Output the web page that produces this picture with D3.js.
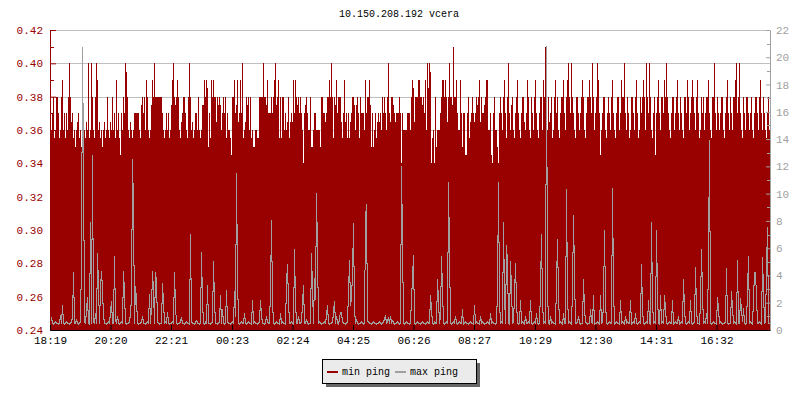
<!DOCTYPE html>
<html><head><meta charset="utf-8">
<script src="https://cdn.jsdelivr.net/npm/d3@7"></script>
<style>
html,body{margin:0;padding:0;background:#fff;}
svg{display:block;}
text{font-family:"Liberation Mono","DejaVu Sans Mono",monospace;}
</style></head>
<body>
<svg id="chart" width="800" height="400"></svg>
<script>
// ---- data (one sample per 2 minutes, 24h) ----
const title = "10.150.208.192 vcera";
const seriesNames = ["min ping", "max ping"];
const tickLabels = ["18:19","20:20","22:21","00:23","02:24","04:25","06:26","08:27","10:29","12:30","14:31","16:32"];
const leftTicks = [0.24,0.26,0.28,0.30,0.32,0.34,0.36,0.38,0.40,0.42];
const rightTicks = [0,2,4,6,8,10,12,14,16,18,20,22];

const minPing = [
.37,.36,.37,.38,.355,.36,.38,.38,.37,.355,
.36,.38,.39,.36,.37,.355,.37,.36,.38,.40,
.38,.365,.37,.355,.36,.35,.36,.365,.37,.355,
.36,.35,.36,.37,.36,.355,.365,.36,.40,.355,
.36,.40,.38,.36,.355,.38,.40,.39,.36,.365,
.355,.36,.35,.36,.365,.355,.36,.38,.36,.355,
.365,.36,.38,.36,.37,.355,.39,.36,.37,.355,
.345,.37,.36,.38,.37,.40,.395,.38,.36,.355,
.365,.36,.355,.36,.37,.37,.37,.37,.37,.36,
.355,.375,.38,.37,.38,.36,.39,.38,.36,.355,
.36,.375,.39,.38,.40,.38,.38,.38,.38,.38,
.38,.38,.37,.36,.355,.36,.37,.36,.37,.355,
.36,.375,.39,.40,.38,.375,.38,.39,.38,.36,
.355,.365,.37,.38,.38,.37,.36,.355,.38,.40,
.38,.36,.365,.355,.36,.37,.37,.36,.38,.36,
.355,.36,.375,.375,.39,.38,.39,.385,.35,.37,
.355,.39,.38,.39,.38,.38,.365,.38,.375,.38,
.375,.36,.37,.38,.37,.38,.355,.37,.36,.36,
.355,.345,.38,.38,.39,.37,.375,.39,.365,.37,
.39,.37,.40,.355,.36,.365,.38,.375,.38,.36,
.38,.355,.36,.35,.35,.36,.36,.355,.355,.38,
.38,.38,.38,.40,.38,.38,.375,.39,.37,.37,
.37,.38,.37,.38,.39,.40,.375,.38,.39,.355,
.38,.355,.38,.38,.36,.37,.36,.365,.38,.355,
.365,.37,.365,.39,.37,.39,.38,.375,.38,.37,
.38,.37,.36,.34,.37,.375,.38,.37,.36,.36,
.38,.35,.35,.36,.37,.37,.36,.36,.36,.36,
.35,.38,.38,.37,.37,.365,.37,.38,.38,.39,
.38,.40,.38,.355,.38,.375,.39,.37,.38,.38,
.38,.365,.355,.37,.39,.365,.37,.355,.37,.355,
.365,.37,.38,.38,.375,.36,.375,.38,.37,.355,
.38,.37,.37,.37,.36,.39,.37,.38,.38,.39,
.375,.35,.37,.35,.36,.37,.355,.365,.37,.365,
.37,.36,.38,.37,.38,.37,.36,.38,.40,.37,
.365,.38,.38,.375,.37,.365,.37,.37,.37,.38,
.37,.34,.37,.36,.36,.36,.36,.37,.37,.37,
.36,.38,.39,.385,.365,.38,.38,.38,.39,.39,
.38,.38,.375,.38,.37,.39,.36,.40,.385,.40,
.395,.34,.355,.36,.34,.38,.35,.36,.36,.36,
.37,.38,.39,.39,.38,.39,.38,.365,.38,.40,
.38,.38,.375,.41,.38,.38,.39,.37,.36,.36,
.39,.37,.35,.37,.37,.345,.345,.37,.38,.355,
.365,.37,.38,.37,.365,.37,.38,.375,.38,.39,
.365,.38,.37,.37,.375,.38,.39,.39,.36,.36,
.37,.345,.34,.37,.38,.36,.36,.35,.34,.37,
.38,.37,.36,.38,.39,.37,.355,.38,.40,.37,
.36,.375,.38,.36,.355,.37,.38,.39,.37,.36,
.355,.37,.38,.38,.365,.36,.37,.39,.38,.36,
.355,.38,.37,.36,.38,.39,.37,.36,.355,.37,
.38,.38,.36,.39,.38,.41,.37,.36,.38,.365,
.37,.38,.355,.36,.38,.39,.37,.38,.36,.355,
.37,.38,.38,.39,.37,.36,.38,.39,.40,.38,
.37,.40,.38,.37,.36,.355,.38,.38,.37,.36,
.37,.38,.39,.38,.36,.355,.37,.38,.38,.39,
.38,.37,.40,.38,.36,.37,.38,.40,.39,.37,
.345,.36,.37,.38,.38,.36,.355,.37,.38,.37,
.36,.38,.39,.37,.36,.355,.37,.38,.38,.36,
.37,.39,.38,.38,.40,.37,.36,.38,.37,.355,
.36,.38,.38,.37,.36,.38,.39,.37,.355,.36,
.38,.37,.38,.39,.38,.36,.40,.38,.37,.40,
.38,.36,.355,.37,.38,.345,.37,.38,.39,.37,
.36,.38,.38,.37,.39,.38,.40,.38,.37,.36,
.355,.37,.38,.38,.36,.37,.38,.39,.37,.36,
.38,.37,.36,.355,.38,.38,.37,.39,.38,.36,
.37,.38,.39,.38,.37,.36,.38,.39,.37,.355,
.36,.38,.37,.38,.36,.37,.38,.38,.39,.37,
.36,.355,.38,.38,.40,.37,.36,.38,.37,.36,
.37,.38,.38,.36,.355,.37,.38,.39,.37,.36,
.38,.37,.36,.38,.38,.39,.40,.37,.38,.40,
.37,.36,.355,.38,.37,.36,.38,.38,.37,.36,
.37,.38,.36,.355,.37,.38,.38,.37,.36,.38,
.39,.37,.36,.38,.37,.36,.355,.37,.38,.36
];

const maxPing = [
0.5,0.95,0.5,0.4,0.5,0.6,0.5,0.5,0.4,0.5,
1.1,0.5,1.8,0.5,0.4,0.5,0.6,0.5,0.5,0.4,
0.5,0.6,0.9,4.2,0.5,0.5,0.8,0.5,0.4,0.5,
0.6,5.4,20.7,12.5,0.6,0.5,1.5,2.4,0.5,0.4,
7.9,0.5,12.8,0.6,0.5,1.2,0.5,5.6,3.1,0.5,
3.1,4.3,2.9,1.0,0.5,0.5,0.4,0.5,0.6,0.5,
1.3,2.1,0.5,0.5,5.4,0.7,0.5,1.0,0.5,0.4,
0.5,0.6,0.5,4.3,2.6,0.5,0.4,0.5,0.5,0.6,
1.3,2.3,12.5,9.0,0.5,3.2,2.2,0.5,0.4,0.5,
0.5,0.6,1.0,0.5,0.5,0.4,0.5,0.6,0.5,2.6,
0.5,1.7,4.3,2.8,0.5,4.2,3.5,0.6,0.5,0.4,
0.5,0.5,3.4,2.0,0.5,0.6,0.5,1.3,0.5,0.4,
0.5,0.5,0.6,0.5,4.2,1.7,0.5,0.4,0.5,0.5,
0.6,0.9,0.5,0.5,0.4,0.5,0.6,0.5,0.5,0.4,
7.0,0.6,0.5,0.5,0.4,0.5,0.7,0.5,0.5,0.4,
0.5,5.7,2.0,0.5,0.4,0.6,0.5,3.3,0.5,0.5,
0.4,0.5,0.6,5.0,2.0,0.5,0.5,0.4,0.5,0.6,
2.5,0.5,1.5,0.5,0.4,0.5,2.9,0.6,0.5,0.5,
0.4,0.5,0.6,0.5,2.8,1.0,11.5,4.0,0.5,0.4,
0.5,0.6,0.5,0.5,1.2,0.5,0.4,0.5,0.6,0.5,
0.5,0.4,2.2,0.5,0.6,0.5,0.5,0.4,0.5,0.6,
2.2,1.0,0.5,0.5,0.4,0.5,1.0,0.6,0.5,0.5,
3.0,8.0,2.0,0.5,0.4,0.5,0.6,0.5,0.5,0.4,
1.2,0.5,0.6,0.5,0.5,0.4,3.5,4.8,2.0,0.5,
0.5,0.6,0.5,0.4,5.9,2.0,0.5,0.5,1.0,0.5,
0.5,0.6,1.9,3.3,0.5,0.5,0.8,0.5,0.4,0.5,
0.5,5.6,3.0,0.5,3.8,2.2,10.0,5.7,0.5,0.6,
0.5,0.4,0.5,0.5,0.6,0.5,1.1,1.8,0.5,0.4,
0.5,0.5,0.6,1.3,2.1,0.5,1.0,0.5,0.4,0.9,
1.3,1.2,0.6,0.5,0.5,0.4,0.5,0.6,2.8,5.1,
1.8,2.4,4.1,7.8,1.5,0.5,0.8,0.5,0.4,0.5,
0.5,0.6,0.5,0.4,0.6,8.2,9.2,0.6,0.6,0.5,
0.5,0.4,0.5,0.6,0.5,0.5,0.4,0.5,0.5,0.6,
0.5,0.4,0.5,0.6,0.8,1.1,0.5,0.6,0.9,0.5,
1.0,0.5,0.7,0.5,0.4,0.5,0.5,0.6,0.5,0.4,
0.5,12.0,6.4,0.5,0.4,0.5,0.6,0.5,0.5,0.4,
0.5,2.3,3.8,5.5,0.5,0.4,0.5,0.6,0.5,0.5,
0.4,0.5,0.6,0.5,0.5,0.4,0.5,0.6,0.5,0.5,
2.5,1.5,0.5,0.4,0.6,0.5,0.5,3.7,2.1,0.5,
1.0,5.4,2.9,0.5,0.4,0.5,0.6,0.5,10.8,5.7,
0.5,0.4,0.5,0.6,0.5,1.0,0.5,0.4,0.5,0.6,
0.5,0.5,1.5,0.4,0.5,0.6,0.5,0.5,0.4,0.5,
0.6,0.5,0.5,0.4,1.8,0.5,0.6,0.5,0.5,0.4,
1.0,0.5,0.6,0.5,0.4,0.5,0.5,0.6,0.5,0.4,
1.2,0.5,0.6,0.5,0.5,0.4,0.5,3.0,10.8,2.0,
0.5,0.6,0.5,7.9,2.5,0.5,6.2,4.9,0.5,0.4,
5.0,3.0,0.5,0.6,2.5,4.9,2.0,0.5,0.4,0.5,
2.2,0.5,0.6,0.5,0.4,1.0,0.5,0.5,0.6,0.5,
2.2,0.5,0.4,0.5,0.6,0.5,1.2,0.5,0.4,0.5,
3.0,7.0,2.0,0.5,0.6,0.5,20.8,3.0,0.5,0.4,
1.0,0.5,0.6,0.5,0.5,0.4,3.5,6.6,2.5,0.5,
0.6,0.5,0.4,1.2,0.5,0.5,10.3,2.5,0.5,0.6,
0.5,0.4,3.0,8.4,4.0,0.5,0.5,0.6,1.0,0.5,
0.4,0.5,0.5,3.7,1.5,0.6,0.5,0.4,0.5,0.5,
1.5,0.6,0.5,2.5,0.4,0.5,0.5,0.6,0.5,0.4,
2.5,0.5,0.6,2.0,7.3,2.0,0.5,0.4,0.5,0.6,
0.5,0.5,10.4,3.0,0.4,0.5,0.6,0.5,0.5,0.4,
2.2,0.5,0.6,0.5,0.4,1.0,0.5,0.6,0.5,0.5,
2.2,0.4,0.5,0.6,0.5,1.2,0.5,0.4,0.5,0.6,
0.5,4.8,1.5,0.5,0.4,0.5,0.6,0.5,2.2,0.5,
0.4,7.9,2.0,0.5,0.6,0.5,7.3,2.5,0.5,0.4,
2.5,0.5,0.6,0.5,2.5,1.5,0.5,0.4,0.5,0.6,
0.5,0.5,2.2,0.4,0.5,0.6,0.5,0.5,1.0,0.4,
0.5,0.6,0.5,3.7,1.5,0.5,0.4,0.5,0.6,0.5,
2.2,0.5,0.4,0.5,0.6,4.6,1.5,0.5,0.5,0.4,
2.0,5.9,2.5,0.5,0.6,0.5,1.2,0.5,5.5,13.9,
0.5,0.4,0.5,0.6,0.5,0.5,0.4,2.4,1.5,0.5,
0.6,0.5,0.4,0.5,0.5,0.6,4.5,0.5,0.4,0.5,
0.5,2.8,1.6,0.5,0.6,0.5,0.4,5.1,0.5,0.5,
2.3,1.5,0.6,1.6,0.5,0.4,0.5,2.9,5.4,0.5,
0.6,0.5,0.4,2.3,4.2,4.2,2.4,0.5,0.5,0.6,
0.5,0.4,5.3,2.8,0.5,0.6,4.6,7.5,0.5,0.5
];

// ---- layout ----
const RED = "#990000", GRAY = "#a0a0a0", GRID = "#c0c0c0";
const M = {left: 50, right: 770, top: 30, bottom: 330};
const svg = d3.select("#chart");

const start = new Date(2024, 0, 1, 18, 19, 0);
const end = new Date(start.getTime() + 24 * 3600 * 1000);
const stepMs = (end - start) / minPing.length;

const x = d3.scaleTime().domain([start, end]).range([M.left, M.right]);
const yL = d3.scaleLinear().domain([0.24, 0.42]).range([M.bottom, M.top]);
const yR = d3.scaleLinear().domain([0, 22]).range([M.bottom, M.top]);

// tick dates from labels
let prev = -1, dayOff = 0;
const tickDates = tickLabels.map(s => {
  const [h, m] = s.split(":").map(Number);
  const mins = h * 60 + m;
  if (prev >= 0 && mins < prev) dayOff += 1;
  prev = mins;
  return new Date(2024, 0, 1 + dayOff, h, m, 0);
});

// gridlines
svg.append("g").selectAll("line").data(leftTicks).join("line")
  .attr("x1", M.left).attr("x2", M.right)
  .attr("y1", d => Math.round(yL(d)) + 0.5).attr("y2", d => Math.round(yL(d)) + 0.5)
  .attr("stroke", GRID).attr("stroke-width", 1);

// min ping area
const minPts = minPing.map((v, i) => ({t: new Date(start.getTime() + i * stepMs), v}));
minPts.push({t: end, v: minPing[minPing.length - 1]});
svg.append("path")
  .datum(minPts)
  .attr("fill", RED)
  .attr("shape-rendering", "crispEdges")
  .attr("d", d3.area().x(d => x(d.t)).y0(yL(0.24)).y1(d => yL(d.v)).curve(d3.curveStepAfter));

// max ping line, rendered as an aliased 1px polyline (one pixel column per sample)
const maxPts = maxPing.map((v, i) => ({t: new Date(start.getTime() + i * stepMs), v}));
const segs = maxPts.map((d, i) => {
  const yi = yR(d.v);
  const cand = [yi];
  if (i > 0) cand.push((yi + yR(maxPts[i - 1].v)) / 2);
  if (i < maxPts.length - 1) cand.push((yi + yR(maxPts[i + 1].v)) / 2);
  const top = Math.floor(d3.min(cand));
  const bot = Math.max(top + 1, Math.ceil(d3.max(cand)));
  return {x: Math.round(x(d.t)), top, bot};
});
svg.append("g").attr("shape-rendering", "crispEdges")
  .selectAll("rect").data(segs).join("rect")
  .attr("x", d => d.x).attr("width", 1)
  .attr("y", d => d.top).attr("height", d => d.bot - d.top)
  .attr("fill", GRAY);

// left axis
const gL = svg.append("g").attr("transform", `translate(${M.left},0)`)
  .call(d3.axisLeft(yL).tickValues(leftTicks).tickFormat(d3.format(".2f"))
    .tickSizeInner(-6).tickSizeOuter(0).tickPadding(7));
gL.selectAll("path,line").attr("stroke", RED);
gL.selectAll("text").attr("fill", RED).style("font-size", "11px").style("font-family", "Liberation Mono");
// minor ticks left
svg.append("g").selectAll("line").data(d3.range(0.25, 0.42, 0.02)).join("line")
  .attr("x1", M.left).attr("x2", M.left + 4)
  .attr("y1", d => Math.round(yL(d)) + 0.5).attr("y2", d => Math.round(yL(d)) + 0.5)
  .attr("stroke", RED);

// right axis
const gR = svg.append("g").attr("transform", `translate(${M.right},0)`)
  .call(d3.axisRight(yR).tickValues(rightTicks).tickFormat(d3.format("d"))
    .tickSizeInner(-4).tickSizeOuter(0).tickPadding(6));
gR.selectAll("path,line").attr("stroke", GRAY);
gR.selectAll("text").attr("fill", GRAY).style("font-size", "11px").style("font-family", "Liberation Mono");
svg.append("g").selectAll("line").data(d3.range(1, 22, 2)).join("line")
  .attr("x1", M.right - 3).attr("x2", M.right)
  .attr("y1", d => Math.round(yR(d)) + 0.5).attr("y2", d => Math.round(yR(d)) + 0.5)
  .attr("stroke", GRAY);

// bottom axis
const gB = svg.append("g").attr("transform", `translate(0,${M.bottom})`)
  .call(d3.axisBottom(x).tickValues(tickDates).tickFormat(d3.timeFormat("%H:%M"))
    .tickSizeInner(-5).tickSizeOuter(0).tickPadding(6));
gB.selectAll("path,line").attr("stroke", "#000");
gB.selectAll("text").attr("fill", "#000").style("font-size", "11px").style("font-family", "Liberation Mono");

// title
svg.append("text").attr("x", 399).attr("y", 17).attr("text-anchor", "middle")
  .style("font-size", "10px").attr("fill", "#000").text(title);

// legend
const lg = svg.append("g");
lg.append("rect").attr("x", 326).attr("y", 363).attr("width", 154).attr("height", 24).attr("fill", "#666");
lg.append("rect").attr("x", 322.5).attr("y", 359.5).attr("width", 154).attr("height", 24)
  .attr("fill", "#ebebeb").attr("stroke", "#000").attr("stroke-width", 1);
const legendItems = [
  {name: seriesNames[0], color: RED, sx: 327, tx: 342},
  {name: seriesNames[1], color: GRAY, sx: 395, tx: 410}
];
legendItems.forEach(it => {
  lg.append("rect").attr("x", it.sx).attr("y", 371).attr("width", 11).attr("height", 2).attr("fill", it.color);
  lg.append("text").attr("x", it.tx).attr("y", 375).style("font-size", "10px").attr("fill", "#000").text(it.name);
});
</script>
</body></html>
